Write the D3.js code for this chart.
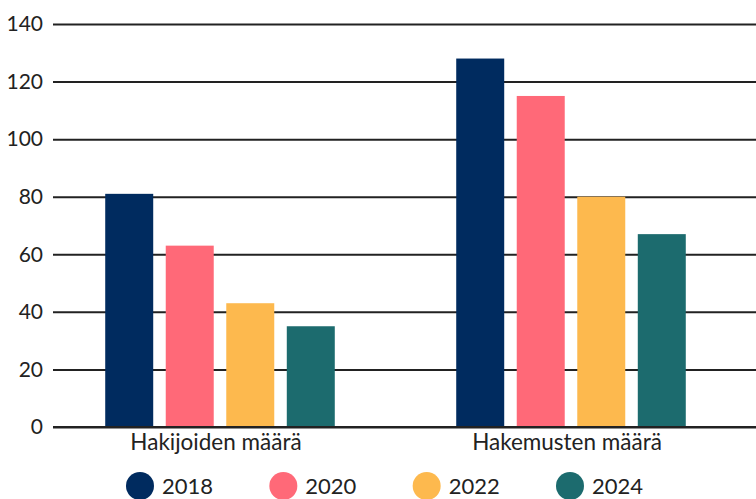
<!DOCTYPE html>
<html>
<head>
<meta charset="utf-8">
<script src="https://cdn.jsdelivr.net/npm/d3@7"></script>
<style>
  body { margin: 0; background: #fff; }
  text { font-family: Lato, "Open Sans", sans-serif; fill: #222; }
</style>
</head>
<body>
<script>
// chart data
var categories = ["Hakijoiden määrä", "Hakemusten määrä"];
var years = ["2018", "2020", "2022", "2024"];
var values2018 = [81, 128];
var values2020 = [63, 115];
var values2022 = [43, 80];
var values2024 = [35, 67];
var yTicks = [0, 20, 40, 60, 80, 100, 120, 140];
var colors = ["#002b5f", "#ff6978", "#fdb94e", "#1c6b6e"];

var series = [values2018, values2020, values2022, values2024];

var w = 756, h = 499;
var svg = d3.select("body").append("svg").attr("width", w).attr("height", h);

// scales
var y = d3.scaleLinear().domain([0, 140]).range([427, 24]);
var x0 = d3.scaleBand().domain(categories).range([44.5, 746.5])
  .paddingInner(0.346).paddingOuter(0.173);
var x1 = d3.scaleBand().domain(years).range([0, x0.bandwidth()]).paddingInner(0.207);
var color = d3.scaleOrdinal().domain(years).range(colors);

// grid lines + labels
var yAxis = d3.axisLeft(y).tickValues(yTicks).tickSize(-(w - 53)).tickPadding(10);
var gy = svg.append("g").attr("transform", "translate(53,0)").call(yAxis);
gy.select(".domain").remove();
gy.selectAll(".tick line").attr("stroke", "#222").attr("stroke-width", 2);
gy.selectAll(".tick text").attr("font-size", 21).attr("fill", "#222");

// bars
var groups = svg.selectAll("g.grp").data(categories).enter().append("g")
  .attr("class", "grp")
  .attr("transform", function (d) { return "translate(" + x0(d) + ",0)"; });

groups.selectAll("rect").data(function (d, i) {
  return years.map(function (yr, j) { return { year: yr, value: series[j][i] }; });
}).enter().append("rect")
  .attr("x", function (d) { return x1(d.year); })
  .attr("y", function (d) { return y(d.value); })
  .attr("width", x1.bandwidth())
  .attr("height", function (d) { return y(0) - y(d.value); })
  .attr("fill", function (d) { return color(d.year); });

// zero line on top
svg.append("line").attr("x1", 53).attr("x2", w).attr("y1", y(0)).attr("y2", y(0))
  .attr("stroke", "#222").attr("stroke-width", 2);

// category labels
var xAxis = d3.axisBottom(x0).tickSize(0).tickPadding(7);
var gx = svg.append("g").attr("transform", "translate(-4," + y(0) + ")").call(xAxis);
gx.select(".domain").remove();
gx.selectAll(".tick text").attr("font-size", 22.5).attr("fill", "#222");

// legend
var legendX = d3.scalePoint().domain(years).range([140, 570]);
var leg = svg.selectAll("g.leg").data(years).enter().append("g")
  .attr("class", "leg")
  .attr("transform", function (d) { return "translate(" + legendX(d) + ",486)"; });
leg.append("circle").attr("r", 14).attr("fill", function (d) { return color(d); });
leg.append("text").attr("x", 22).attr("dy", "0.36em").attr("font-size", 22)
  .text(function (d) { return d; });
</script>
</body>
</html>
